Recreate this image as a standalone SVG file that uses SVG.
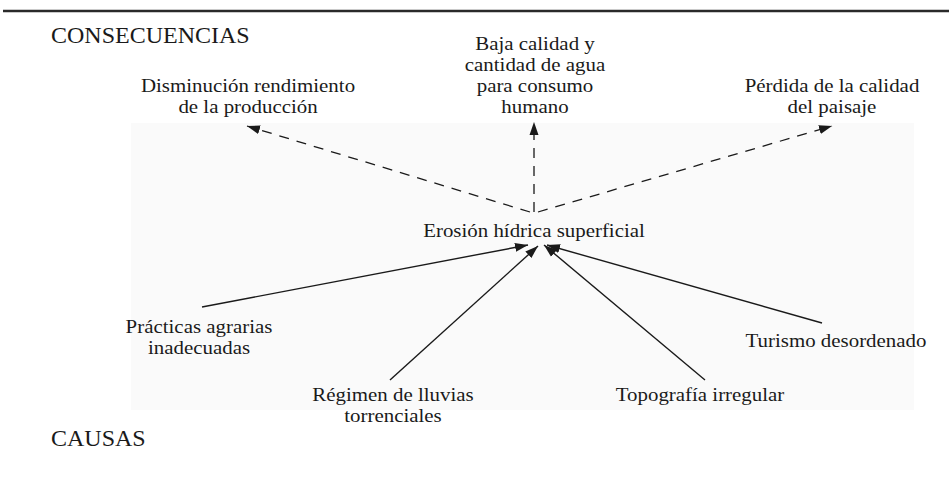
<svg xmlns="http://www.w3.org/2000/svg" width="949" height="488" viewBox="0 0 949 488">
<style>
text{font-family:"Liberation Serif","Times New Roman",serif;font-size:19px;fill:#1a1a1a;text-anchor:middle}
.t{font-size:24px;text-anchor:start}
.solid{stroke:#1a1a1a;stroke-width:1.4;fill:none}
.dash{stroke:#1a1a1a;stroke-width:1.3;fill:none;stroke-dasharray:10 8}
</style>
<defs>
<marker id="ah" markerUnits="userSpaceOnUse" markerWidth="14" markerHeight="10" refX="13" refY="5" orient="auto">
<path d="M0,0.5 L13,5 L0,9.5 Z" fill="#1a1a1a"/>
</marker>
</defs>
<rect x="0" y="0" width="949" height="488" fill="#ffffff"/>
<rect x="131" y="123" width="783" height="287" fill="#fafafa"/>
<line x1="3" y1="11" x2="949" y2="11" stroke="#2a2a2a" stroke-width="2.6"/>
<g id="titles">
<text class="t" x="51" y="43">CONSECUENCIAS</text>
<text class="t" x="51" y="446">CAUSAS</text>
</g>
<g id="connectors">
<line class="dash" x1="530" y1="212" x2="247" y2="126" marker-end="url(#ah)"/>
<line class="dash" x1="534" y1="212" x2="534" y2="122" marker-end="url(#ah)"/>
<line class="dash" x1="538" y1="212" x2="832" y2="126" marker-end="url(#ah)"/>
<line class="solid" x1="202" y1="307" x2="528" y2="245" marker-end="url(#ah)"/>
<line class="solid" x1="390" y1="380" x2="538" y2="246" marker-end="url(#ah)"/>
<line class="solid" x1="705" y1="380" x2="544" y2="245" marker-end="url(#ah)"/>
<line class="solid" x1="822" y1="323" x2="547" y2="245" marker-end="url(#ah)"/>
</g>
<g id="n-erosion"><text transform="translate(534 237) scale(1.1 1)">Erosión hídrica superficial</text></g>
<g id="n-disminucion">
<text transform="translate(248 92) scale(1.1 1)">Disminución rendimiento</text>
<text transform="translate(248 113) scale(1.1 1)">de la producción</text>
</g>
<g id="n-agua">
<text transform="translate(535 50) scale(1.1 1)">Baja calidad y</text>
<text transform="translate(535 71) scale(1.1 1)">cantidad de agua</text>
<text transform="translate(535 92) scale(1.1 1)">para consumo</text>
<text transform="translate(535 113) scale(1.1 1)">humano</text>
</g>
<g id="n-paisaje">
<text transform="translate(832 92) scale(1.1 1)">Pérdida de la calidad</text>
<text transform="translate(832 113) scale(1.1 1)">del paisaje</text>
</g>
<g id="n-practicas">
<text transform="translate(199 333) scale(1.1 1)">Prácticas agrarias</text>
<text transform="translate(199 354) scale(1.1 1)">inadecuadas</text>
</g>
<g id="n-regimen">
<text transform="translate(393 401) scale(1.1 1)">Régimen de lluvias</text>
<text transform="translate(393 422) scale(1.1 1)">torrenciales</text>
</g>
<g id="n-topografia"><text transform="translate(700 401) scale(1.1 1)">Topografía irregular</text></g>
<g id="n-turismo"><text transform="translate(836 347) scale(1.1 1)">Turismo desordenado</text></g>
</svg>
